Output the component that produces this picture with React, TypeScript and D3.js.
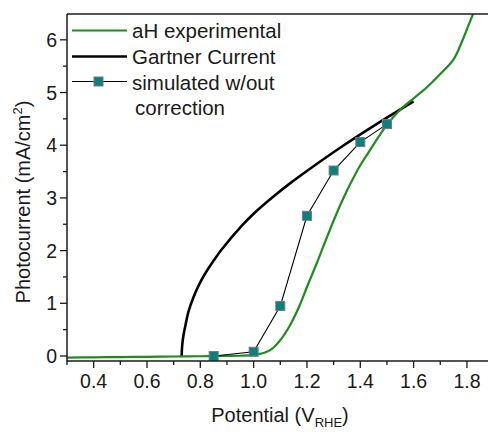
import React from "react";
import * as d3 from "d3";

const W = 488;
const H = 432;

// aH experimental (green)
const expX = [0.30, 0.40, 0.50, 0.60, 0.70, 0.80, 0.90, 0.95, 1.00, 1.04, 1.07, 1.10, 1.136, 1.17, 1.20, 1.236, 1.27, 1.31, 1.34, 1.367, 1.40, 1.442, 1.486, 1.52, 1.56, 1.60, 1.65, 1.70, 1.75, 1.78, 1.80, 1.825, 1.84];
const expY = [-0.03, -0.025, -0.02, -0.015, -0.01, -0.005, 0.0, 0.005, 0.02, 0.06, 0.14, 0.30, 0.58, 0.93, 1.31, 1.75, 2.19, 2.69, 3.03, 3.31, 3.62, 3.95, 4.29, 4.51, 4.72, 4.89, 5.1, 5.35, 5.63, 5.95, 6.2, 6.52, 6.75];

// Gartner current (black)
const gartX = [0.73, 0.732, 0.737, 0.745, 0.755, 0.774, 0.80, 0.83, 0.85, 0.88, 0.955, 1.0, 1.08, 1.14, 1.205, 1.33, 1.455, 1.6];
const gartY = [0.0, 0.2, 0.4, 0.6, 0.83, 1.11, 1.40, 1.66, 1.81, 2.02, 2.47, 2.70, 3.05, 3.29, 3.53, 3.97, 4.38, 4.83];

// simulated w/out correction (squares)
const simX = [0.85, 1.0, 1.1, 1.2, 1.3, 1.4, 1.5];
const simY = [0.0, 0.08, 0.95, 2.66, 3.52, 4.06, 4.40];

const xMajor = [0.4, 0.6, 0.8, 1.0, 1.2, 1.4, 1.6, 1.8];
const xMinor = [0.3, 0.5, 0.7, 0.9, 1.1, 1.3, 1.5, 1.7];
const yMajor = [0, 1, 2, 3, 4, 5, 6];
const yMinor = [0.5, 1.5, 2.5, 3.5, 4.5, 5.5];

const legendLabels = ["aH experimental", "Gartner Current", "simulated w/out", "correction"];

const GREEN = "#1f8c1f";
const TEAL = "#0b8080";
const INK = "#1a1a1a";
const FONT = "Arial, 'Liberation Sans', sans-serif";

export default function App() {
  const left = 67, right = 488, top = 14, bottom = 361;
  const x = d3.scaleLinear().domain([0.3, 1.879]).range([left, right]);
  const y = d3.scaleLinear().domain([-0.095, 6.49]).range([bottom, top]);

  const line = d3.line<[number, number]>().x(d => x(d[0])).y(d => y(d[1]));
  const smooth = d3.line<[number, number]>().x(d => x(d[0])).y(d => y(d[1])).curve(d3.curveCatmullRom.alpha(0.5));

  const exp: [number, number][] = expX.map((v, i) => [v, expY[i]]);
  const gart: [number, number][] = gartX.map((v, i) => [v, gartY[i]]);
  const sim: [number, number][] = simX.map((v, i) => [v, simY[i]]);

  const ms = 9;

  return (
    <svg width={W} height={H} style={{ position: "absolute", left: 0, top: 0, background: "#fff" }} fontFamily={FONT}>
      <defs>
        <clipPath id="plot">
          <rect x={left} y={top} width={right - left} height={bottom - top} />
        </clipPath>
      </defs>
      <rect x={0} y={0} width={W} height={H} fill="#fff" />

      {/* data */}
      <g clipPath="url(#plot)">
        <path d={smooth(gart) || ""} fill="none" stroke="#000" strokeWidth={2.6} />
        <path d={smooth(exp) || ""} fill="none" stroke={GREEN} strokeWidth={2.2} />
        <path d={line(sim) || ""} fill="none" stroke="#000" strokeWidth={1.1} />
        {sim.map((d, i) => (
          <rect key={i} x={x(d[0]) - ms / 2} y={y(d[1]) - ms / 2} width={ms} height={ms} fill={TEAL} stroke="#7a7a7a" strokeWidth={1} />
        ))}
      </g>

      {/* frame */}
      <line x1={left} x2={right} y1={top} y2={top} stroke={INK} strokeWidth={1.5} />
      <line x1={left} x2={right} y1={bottom} y2={bottom} stroke={INK} strokeWidth={1.5} />
      <line x1={left} x2={left} y1={top} y2={bottom + 0.75} stroke={INK} strokeWidth={1.5} />

      {/* x ticks */}
      {xMajor.map(v => (
        <g key={"xM" + v}>
          <line x1={x(v)} x2={x(v)} y1={bottom} y2={bottom + 7} stroke={INK} strokeWidth={1.3} />
          <text x={x(v)} y={388} textAnchor="middle" fontSize={19.5} fill={INK}>{v.toFixed(1)}</text>
        </g>
      ))}
      {xMinor.map(v => (
        <line key={"xm" + v} x1={x(v)} x2={x(v)} y1={bottom} y2={bottom + 4} stroke={INK} strokeWidth={1.3} />
      ))}

      {/* y ticks */}
      {yMajor.map(v => (
        <g key={"yM" + v}>
          <line x1={left - 7} x2={left} y1={y(v)} y2={y(v)} stroke={INK} strokeWidth={1.3} />
          <text x={57} y={y(v) + 7} textAnchor="end" fontSize={19.5} fill={INK}>{v}</text>
        </g>
      ))}
      {yMinor.map(v => (
        <line key={"ym" + v} x1={left - 4} x2={left} y1={y(v)} y2={y(v)} stroke={INK} strokeWidth={1.3} />
      ))}

      {/* axis titles */}
      <text x={280} y={422} textAnchor="middle" fontSize={20} fill={INK}>
        Potential (V<tspan fontSize={13} dy={5}>RHE</tspan><tspan dy={-5}>)</tspan>
      </text>
      <text transform={`translate(30,${202}) rotate(-90)`} textAnchor="middle" fontSize={20} fill={INK}>
        Photocurrent (mA/cm<tspan fontSize={13} dy={-8}>2</tspan><tspan dy={8}>)</tspan>
      </text>

      {/* legend */}
      <g>
        <line x1={72} x2={127} y1={30.5} y2={30.5} stroke={GREEN} strokeWidth={2.2} />
        <text x={132} y={37.5} fontSize={20.5} fill={INK}>{legendLabels[0]}</text>
        <line x1={72} x2={127} y1={56.5} y2={56.5} stroke="#000" strokeWidth={2.6} />
        <text x={132} y={63.5} fontSize={20.5} fill={INK}>{legendLabels[1]}</text>
        <line x1={72} x2={127} y1={81.5} y2={81.5} stroke="#000" strokeWidth={1.1} />
        <rect x={98.5 - ms / 2} y={81.5 - ms / 2} width={ms} height={ms} fill={TEAL} stroke="#7a7a7a" strokeWidth={1} />
        <text x={132} y={89.5} fontSize={20.5} fill={INK}>{legendLabels[2]}</text>
        <text x={135} y={114.5} fontSize={20.5} fill={INK}>{legendLabels[3]}</text>
      </g>
    </svg>
  );
}
